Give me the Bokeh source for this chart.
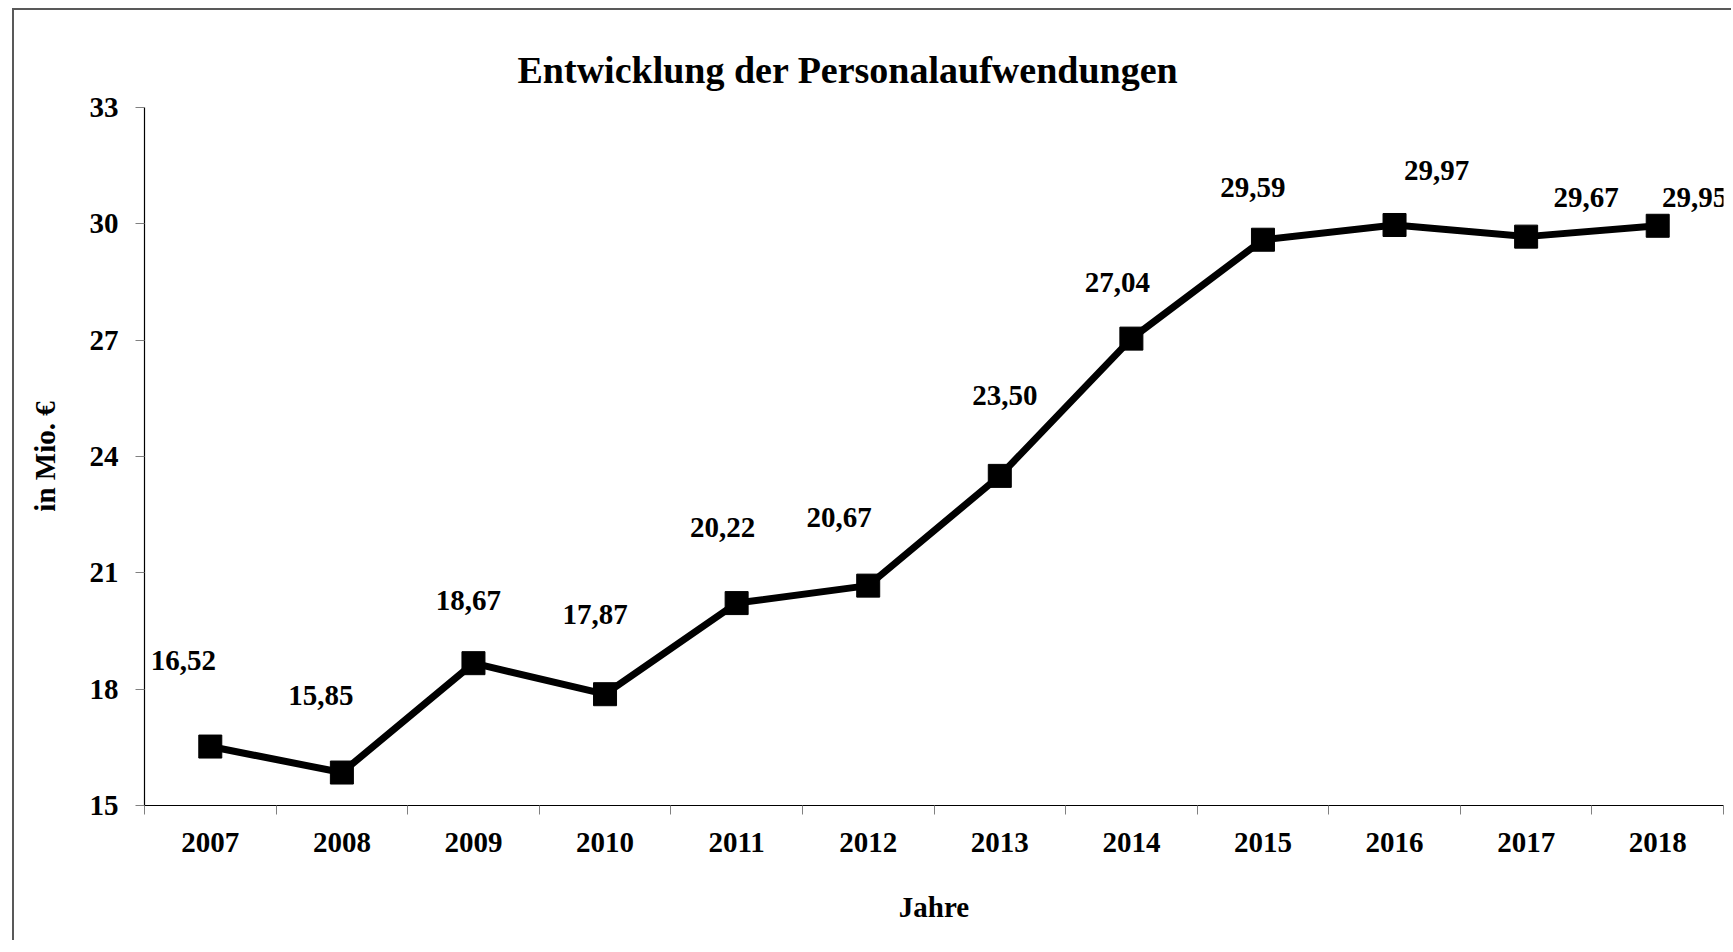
from bokeh.plotting import figure
from bokeh.models import ColumnDataSource, FixedTicker, LabelSet, Range1d
from bokeh.embed import file_html
from bokeh.resources import INLINE

# ---- data ----
years = ["2007", "2008", "2009", "2010", "2011", "2012",
         "2013", "2014", "2015", "2016", "2017", "2018"]
values = [16.52, 15.85, 18.67, 17.87, 20.22, 20.67,
          23.50, 27.04, 29.59, 29.97, 29.67, 29.95]
y_ticks = [15, 18, 21, 24, 27, 30, 33]
title_text = "Entwicklung der Personalaufwendungen"
y_label_text = "in Mio. \u20ac"
x_label_text = "Jahre"

# label placement (screen px, relative to the point)
label_dx = [-27, -21, -5, -10, -14, -29, 5, -14, -10, 42, 60, 37]
label_dy = [86, 77, 63, 80, 76, 68, 80, 56, 52, 54, 39, 28]

FONT = "Liberation Serif"

xs = [i + 0.5 for i in range(len(years))]
src = ColumnDataSource(dict(
    x=xs, y=values,
    lbl=[f"{v:.2f}".replace(".", ",") for v in values],
    dx=label_dx, dy=label_dy,
))

p = figure(width=1719, height=932, output_backend="svg", toolbar_location=None,
           x_range=Range1d(0, len(years)), y_range=Range1d(y_ticks[0], y_ticks[-1]),
           min_border_left=130, min_border_right=10, min_border_top=97, min_border_bottom=137,
           title=title_text, x_axis_label=x_label_text, y_axis_label=y_label_text)
p.styles = {"margin-left": "12px", "margin-top": "8px",
            "border-top": "2px solid #595959", "border-left": "2px solid #595959"}
p.outline_line_color = None
p.grid.visible = False
p.background_fill_color = "white"
p.border_fill_color = "white"

p.title.align = "left"
p.title.offset = 373
p.title.text_font = FONT
p.title.text_font_style = "bold"
p.title.text_font_size = "38px"
p.title.text_color = "black"
p.title.standoff = 33

# x axis: labels at centers, ticks at boundaries (minor ticks)
xa = p.xaxis[0]
xa.ticker = FixedTicker(ticks=xs, minor_ticks=list(range(len(years) + 1)))
xa.major_label_overrides = {x: y for x, y in zip(xs, years)}
xa.major_tick_out = 0
xa.major_tick_in = 0
xa.minor_tick_out = 9
xa.minor_tick_in = 0
xa.minor_tick_line_color = "#808080"
xa.axis_line_color = "black"
xa.axis_line_width = 1.2
xa.major_label_standoff = 18
xa.major_label_text_font = FONT
xa.major_label_text_font_style = "bold"
xa.major_label_text_font_size = "29px"
xa.major_label_text_color = "black"
xa.axis_label_standoff = 36
xa.axis_label_text_font = FONT
xa.axis_label_text_font_style = "bold"
xa.axis_label_text_font_size = "29px"
xa.axis_label_text_color = "black"

ya = p.yaxis[0]
ya.ticker = FixedTicker(ticks=y_ticks, minor_ticks=[])
ya.major_tick_out = 9
ya.major_tick_in = 0
ya.major_tick_line_color = "#808080"
ya.axis_line_color = "black"
ya.axis_line_width = 1.2
ya.major_label_standoff = 17
ya.major_label_text_font = FONT
ya.major_label_text_font_style = "bold"
ya.major_label_text_font_size = "29px"
ya.major_label_text_color = "black"
ya.axis_label_standoff = 26
ya.axis_label_text_font = FONT
ya.axis_label_text_font_style = "bold"
ya.axis_label_text_font_size = "29px"
ya.axis_label_text_color = "black"

p.line("x", "y", source=src, line_width=7, line_color="black")
p.scatter("x", "y", source=src, marker="square", size=23,
          fill_color="black", line_color="black")

p.add_layout(LabelSet(x="x", y="y", text="lbl", source=src,
                      x_offset="dx", y_offset="dy",
                      text_align="center", text_baseline="middle",
                      text_font=FONT, text_font_style="bold",
                      text_font_size="29px", text_color="black"))

open("out.html", "w").write(file_html(p, INLINE))
